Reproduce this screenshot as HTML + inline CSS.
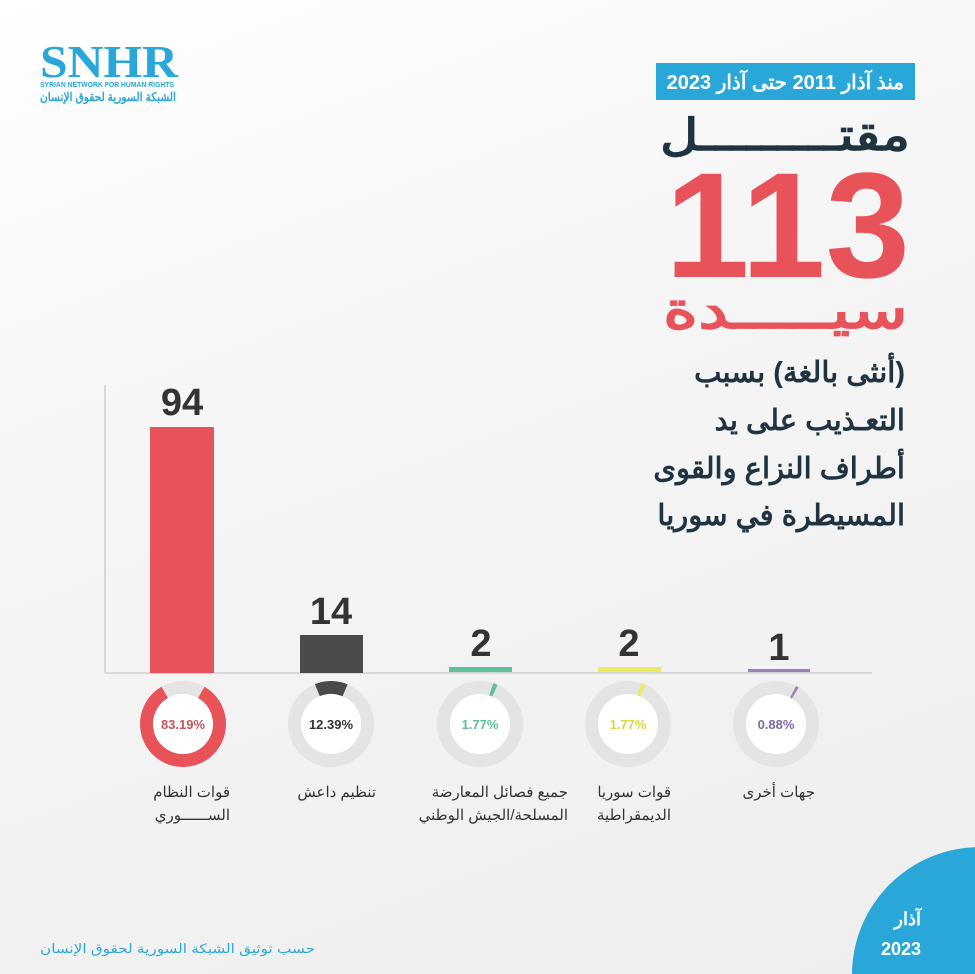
<!DOCTYPE html>
<html><head><meta charset="utf-8"><style>
html,body{margin:0;padding:0;overflow:hidden}
body{width:975px;height:974px;overflow:hidden;background:linear-gradient(160deg,#ffffff 0%,#f6f6f6 35%,#eeeeee 100%);position:relative;font-family:"Liberation Sans","Noto Sans CJK SC",sans-serif}
svg{position:absolute;left:0;top:0;overflow:hidden}
.r{direction:rtl}
</style></head><body>
<svg width="975" height="974" viewBox="0 0 975 974" font-family="Liberation Sans, Noto Sans CJK SC, sans-serif">
<text x="40" y="77" style="font-family:'Liberation Serif',serif" font-size="46" font-weight="bold" fill="#2aa7d9" textLength="138" lengthAdjust="spacingAndGlyphs">SNHR</text>
<text x="40" y="87" font-size="7.5" font-weight="bold" fill="#2aa7d9" textLength="134" lengthAdjust="spacingAndGlyphs">SYRIAN NETWORK FOR HUMAN RIGHTS</text>
<text x="40" y="101" font-size="12" font-weight="bold" fill="#2aa7d9" textLength="136" lengthAdjust="spacingAndGlyphs">الشبكة السورية لحقوق الإنسان</text>
<rect x="656" y="63" width="259" height="37" fill="#2aa7d9"/>
<text x="904" y="89" font-size="20" font-weight="bold" fill="#fff" text-anchor="end">منذ آذار 2011 حتى آذار 2023</text>
<text x="910" y="150" font-size="44" font-weight="bold" fill="#1f3440" text-anchor="end" textLength="250" lengthAdjust="spacingAndGlyphs">مقتـــــــــل</text>
<text x="910" y="277" font-size="150" font-weight="bold" fill="#e8535a" text-anchor="end" textLength="245" lengthAdjust="spacingAndGlyphs">113</text>
<text x="908" y="328" font-size="52" font-weight="bold" fill="#e8535a" text-anchor="end" textLength="245" lengthAdjust="spacingAndGlyphs">سيـــــدة</text>
<g font-size="29" font-weight="bold" fill="#1f3440">
<text class="r" x="905" y="382" text-anchor="start">(أنثى بالغة) بسبب</text>
<text x="905" y="430" text-anchor="end">التعـذيب على يد</text>
<text x="905" y="478" text-anchor="end">أطراف النزاع والقوى</text>
<text x="905" y="525" text-anchor="end">المسيطرة في سوريا</text>
</g>
<line x1="105" y1="385" x2="105" y2="673" stroke="#cfcfcf" stroke-width="1.5"/>
<line x1="105" y1="673" x2="872" y2="673" stroke="#cfcfcf" stroke-width="1.5"/>
<rect x="150" y="427" width="64" height="246" fill="#e8535a"/>
<rect x="300" y="635" width="63" height="38" fill="#4a4a48"/>
<rect x="449" y="667" width="63" height="5" fill="#5fbf97"/>
<rect x="598" y="667" width="63" height="5" fill="#ecea5e"/>
<rect x="748" y="669" width="62" height="3" fill="#9a7fb8"/>
<g font-size="38" font-weight="bold" fill="#333" text-anchor="middle">
<text x="182" y="415">94</text>
<text x="331" y="624">14</text>
<text x="481" y="656">2</text>
<text x="629" y="656">2</text>
<text x="779" y="660">1</text>
</g>
<g fill="#fff" stroke="#e4e4e4" stroke-width="13">
<circle cx="183" cy="724" r="36.5"/><circle cx="331" cy="724" r="36.5"/><circle cx="480" cy="724" r="36.5"/><circle cx="628" cy="724" r="36.5"/><circle cx="776" cy="724" r="36.5"/>
</g>
<g fill="none" stroke-width="13">
<circle cx="183" cy="724" r="36.5" stroke="#e8535a" stroke-dasharray="190.8 229.3" transform="rotate(-60 183 724)"/>
<circle cx="331" cy="724" r="36.5" stroke="#4a4a48" stroke-dasharray="28.4 229.3" transform="rotate(-112 331 724)"/>
<circle cx="480" cy="724" r="36.5" stroke="#5fbf97" stroke-dasharray="4 229.3" transform="rotate(-72 480 724)"/>
<circle cx="628" cy="724" r="36.5" stroke="#ecea5e" stroke-dasharray="4 229.3" transform="rotate(-72 628 724)"/>
<circle cx="776" cy="724" r="36.5" stroke="#9a7fb8" stroke-dasharray="2.5 229.3" transform="rotate(-62 776 724)"/>
</g>
<g font-size="13" font-weight="bold" text-anchor="middle">
<text x="183" y="729" fill="#c9545a">83.19%</text>
<text x="331" y="729" fill="#333">12.39%</text>
<text x="480" y="729" fill="#5fbf97">1.77%</text>
<text x="628" y="729" fill="#d8d640">1.77%</text>
<text x="776" y="729" fill="#7d6aa0">0.88%</text>
</g>
<g font-size="15" fill="#333" text-anchor="end">
<text x="230" y="797">قوات النظام</text>
<text x="230" y="820">الســــــوري</text>
<text x="376" y="797">تنظيم داعش</text>
<text x="568" y="797">جميع فصائل المعارضة</text>
<text x="568" y="820">المسلحة/الجيش الوطني</text>
<text x="671" y="797">قوات سوريا</text>
<text x="671" y="820">الديمقراطية</text>
<text x="815" y="797">جهات  أخرى</text>
</g>
<text x="40" y="953" font-size="13" fill="#2aa7d9" textLength="275" lengthAdjust="spacingAndGlyphs">حسب توثيق الشبكة السورية لحقوق الإنسان</text>
<circle cx="980" cy="975" r="128" fill="#2aa7d9"/>
<text x="921" y="925" font-size="18" font-weight="bold" fill="#fff" text-anchor="end">آذار</text>
<text x="921" y="955" font-size="18" font-weight="bold" fill="#fff" text-anchor="end">2023</text>
</svg>
</body></html>
